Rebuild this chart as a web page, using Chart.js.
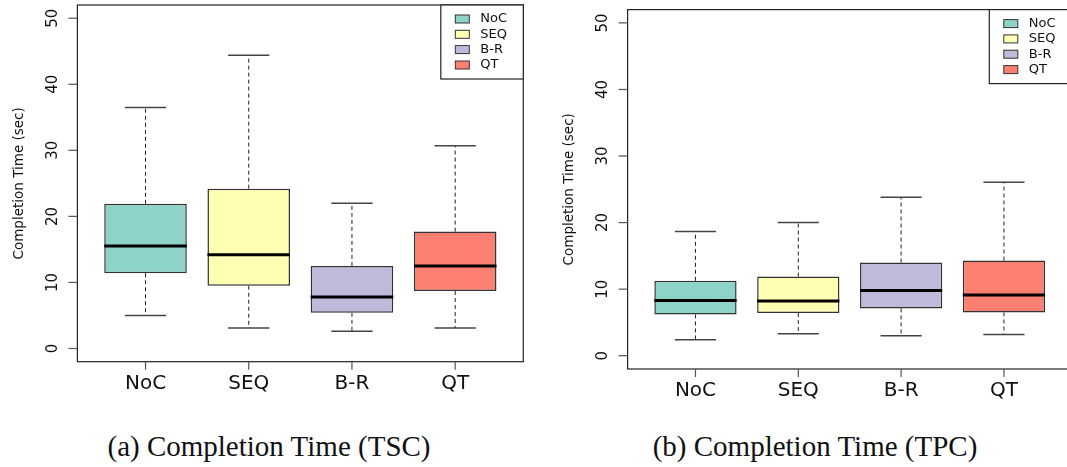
<!DOCTYPE html>
<html>
<head>
<meta charset="utf-8">
<script src="https://cdn.jsdelivr.net/npm/chart.js@4"></script>
<style>
  html, body { margin: 0; padding: 0; background: #fff; overflow: hidden; }
  body { width: 1067px; height: 467px; position: relative; }
  .panel { position: absolute; top: 0; height: 410px; overflow: hidden; }
  .cap { position: absolute; top: 430px; font-family: "Liberation Serif", serif; font-size: 29px; color: #111; transform: translateX(-50%); white-space: nowrap; }
</style>
</head>
<body>
<div class="panel" style="left:0; width:540px"><canvas id="tscChart"></canvas></div>
<div class="panel" style="left:540px; width:527px"><canvas id="tpcChart"></canvas></div>
<div class="cap" style="left:269px">(a) Completion Time (TSC)</div>
<div class="cap" style="left:815px">(b) Completion Time (TPC)</div>
<script>
// categories and colours (RColorBrewer Set3)
const categories = ['NoC', 'SEQ', 'B-R', 'QT'];
const boxColors = ['#8DD3C7', '#FFFFB3', '#BEBADA', '#FB8072'];
const yTicks = [0, 10, 20, 30, 40, 50];

// (a) TSC - five-number summaries
const tscLow    = [5.0, 3.1, 2.6, 3.1];
const tscQ1     = [11.4, 9.5, 5.4, 8.7];
const tscMedian = [15.5, 14.2, 7.8, 12.5];
const tscQ3     = [21.9, 24.2, 12.5, 17.7];
const tscHigh   = [36.5, 44.4, 22.0, 30.7];

// (b) TPC
const tpcLow    = [2.4, 3.3, 3.0, 3.2];
const tpcQ1     = [6.2, 6.4, 7.1, 6.5];
const tpcMedian = [8.3, 8.2, 9.8, 9.1];
const tpcQ3     = [11.25, 11.9, 14.0, 14.3];
const tpcHigh   = [18.65, 20.0, 23.8, 26.05];

// draws whiskers, medians, frame, axes and legend R-style
const boxPlotExtras = {
  id: 'boxPlotExtras',
  afterDatasetsDraw(chart, args, opts) {
    const ctx = chart.ctx;
    const xs = chart.scales.x, ys = chart.scales.y;
    const area = chart.chartArea;
    const unit = xs.getPixelForValue(2) - xs.getPixelForValue(1);
    ctx.save();

    categories.forEach((c, i) => {
      const x = xs.getPixelForValue(i + 1);
      const yLow = ys.getPixelForValue(opts.low[i]);
      const yQ1 = ys.getPixelForValue(opts.q1[i]);
      const yQ3 = ys.getPixelForValue(opts.q3[i]);
      const yHigh = ys.getPixelForValue(opts.high[i]);
      const yMed = ys.getPixelForValue(opts.median[i]);

      // dashed whiskers
      ctx.strokeStyle = '#222';
      ctx.lineWidth = 1;
      ctx.setLineDash([4, 3]);
      ctx.beginPath();
      ctx.moveTo(x, yQ1); ctx.lineTo(x, yLow);
      ctx.moveTo(x, yQ3); ctx.lineTo(x, yHigh);
      ctx.stroke();
      ctx.setLineDash([]);

      // caps
      ctx.strokeStyle = '#444';
      ctx.lineWidth = 1.5;
      ctx.beginPath();
      ctx.moveTo(x - unit * 0.2, yLow); ctx.lineTo(x + unit * 0.2, yLow);
      ctx.moveTo(x - unit * 0.2, yHigh); ctx.lineTo(x + unit * 0.2, yHigh);
      ctx.stroke();

      // median
      ctx.strokeStyle = '#000';
      ctx.lineWidth = 3;
      ctx.beginPath();
      ctx.moveTo(x - unit * 0.4, yMed); ctx.lineTo(x + unit * 0.4, yMed);
      ctx.stroke();
    });

    // frame
    ctx.strokeStyle = '#222';
    ctx.lineWidth = 1.2;
    ctx.strokeRect(area.left, area.top, area.right - area.left, area.bottom - area.top);

    // y axis ticks + rotated labels
    ctx.strokeStyle = '#555';
    ctx.lineWidth = 1.2;
    ctx.fillStyle = '#111';
    ctx.font = '15px "DejaVu Sans"';
    ctx.textAlign = 'center';
    ctx.textBaseline = 'middle';
    yTicks.forEach(v => {
      const y = ys.getPixelForValue(v);
      ctx.beginPath();
      ctx.moveTo(area.left - 9, y); ctx.lineTo(area.left, y);
      ctx.stroke();
      ctx.save();
      ctx.translate(area.left - 24.5, y);
      ctx.rotate(-Math.PI / 2);
      ctx.fillText(String(v), 0, 0);
      ctx.restore();
    });

    // y title
    ctx.save();
    ctx.font = '13.5px "DejaVu Sans"';
    ctx.translate(area.left - 58, (area.top + area.bottom) / 2);
    ctx.rotate(-Math.PI / 2);
    ctx.fillText('Completion Time (sec)', 0, 0);
    ctx.restore();

    // x axis ticks + labels
    ctx.font = '20px "DejaVu Sans"';
    categories.forEach((c, i) => {
      const x = xs.getPixelForValue(i + 1);
      ctx.beginPath();
      ctx.moveTo(x, area.bottom); ctx.lineTo(x, area.bottom + 8);
      ctx.stroke();
      ctx.fillText(c, x, area.bottom + 22);
    });

    // legend box in top-right corner
    const lw = 82.5, lh = 74;
    const lx = area.right - lw, ly = area.top;
    ctx.fillStyle = '#fff';
    ctx.fillRect(lx, ly, lw, lh);
    ctx.strokeStyle = '#222';
    ctx.lineWidth = 1.2;
    ctx.strokeRect(lx, ly, lw, lh);
    ctx.font = '13px "DejaVu Sans"';
    ctx.textAlign = 'left';
    const rows = [14, 29.3, 44.6, 60];
    categories.forEach((c, i) => {
      const ry = ly + rows[i];
      ctx.fillStyle = boxColors[i];
      ctx.fillRect(lx + 14.5, ry - 4, 14, 8);
      ctx.strokeStyle = '#333';
      ctx.lineWidth = 1;
      ctx.strokeRect(lx + 14.5, ry - 4, 14, 8);
      ctx.fillStyle = '#111';
      ctx.fillText(c, lx + 39.5, ry);
    });
    ctx.restore();
  }
};

function makeBoxChart(id, q1, median, q3, low, high, padding) {
  const boxes = categories.map((c, i) => ({ x: i + 1, y: [q1[i], q3[i]] }));
  return new Chart(document.getElementById(id), {
    type: 'bar',
    data: {
      datasets: [{
        data: boxes,
        backgroundColor: boxColors,
        borderColor: '#333',
        borderWidth: 1.5,
        borderSkipped: false,
        barPercentage: 0.8,
        categoryPercentage: 1
      }]
    },
    options: {
      responsive: false,
      animation: false,
      layout: { padding: padding },
      plugins: {
        legend: { display: false },
        tooltip: { enabled: false },
        boxPlotExtras: { q1: q1, median: median, q3: q3, low: low, high: high }
      },
      scales: {
        x: {
          type: 'linear', min: 0.34, max: 4.66, display: false, offset: false,
          // one tick per category so the bar width is one category unit
          afterBuildTicks: s => { s.ticks = categories.map((c, i) => ({ value: i + 1 })); }
        },
        y: { min: -2, max: 52, display: false }
      }
    },
    plugins: [boxPlotExtras]
  });
}

document.getElementById('tscChart').width = 540;
document.getElementById('tscChart').height = 410;
document.getElementById('tpcChart').width = 540;
document.getElementById('tpcChart').height = 410;

makeBoxChart('tscChart', tscQ1, tscMedian, tscQ3, tscLow, tscHigh,
  { left: 77.4, right: 16.7, top: 5, bottom: 48.3 });
makeBoxChart('tpcChart', tpcQ1, tpcMedian, tpcQ3, tpcLow, tpcHigh,
  { left: 87.6, right: 8.2, top: 9.6, bottom: 41 });
</script>
</body>
</html>
